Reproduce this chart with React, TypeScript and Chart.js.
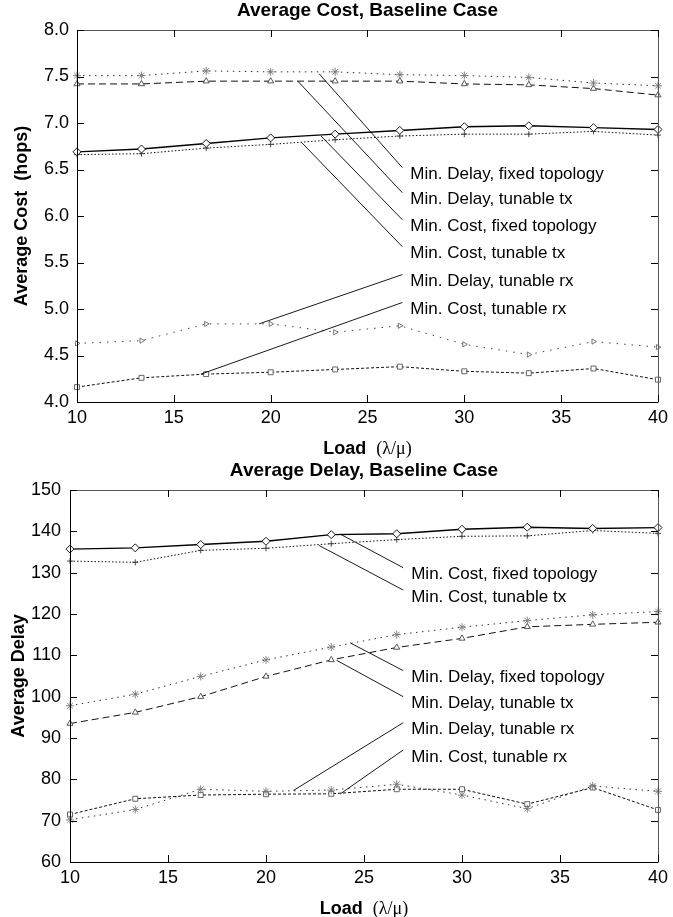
import React, { useEffect, useRef } from 'react';
import { Chart, registerables } from 'chart.js';

Chart.register(...registerables);

// ---------- data ----------
const loads = [10, 13.33, 16.67, 20, 23.33, 26.67, 30, 33.33, 36.67, 40];

// Average cost (hops)
const costMinDelayFixed = [7.51, 7.51, 7.56, 7.55, 7.55, 7.52, 7.51, 7.49, 7.43, 7.4];
const costMinDelayTx = [7.42, 7.42, 7.45, 7.45, 7.45, 7.45, 7.42, 7.41, 7.37, 7.3];
const costMinCostFixed = [6.69, 6.72, 6.78, 6.84, 6.88, 6.92, 6.96, 6.97, 6.95, 6.93];
const costMinCostTx = [6.66, 6.67, 6.73, 6.77, 6.82, 6.86, 6.88, 6.88, 6.91, 6.87];
const costMinDelayRx = [4.63, 4.66, 4.84, 4.84, 4.75, 4.82, 4.62, 4.51, 4.65, 4.59];
const costMinCostRx = [4.16, 4.26, 4.3, 4.32, 4.35, 4.38, 4.33, 4.31, 4.36, 4.24];

// Average delay
const delayMinCostFixed = [135.7, 136.0, 136.8, 137.6, 139.2, 139.4, 140.5, 141.0, 140.7, 140.9];
const delayMinCostTx = [132.8, 132.5, 135.4, 135.9, 137.0, 138.0, 138.8, 138.9, 140.2, 139.5];
const delayMinDelayFixed = [97.8, 100.6, 104.9, 108.9, 112.0, 115.0, 116.8, 118.4, 119.8, 120.6];
const delayMinDelayTx = [93.5, 96.2, 100.0, 104.9, 108.9, 111.9, 114.1, 116.9, 117.5, 118.0];
const delayMinDelayRx = [70.2, 72.7, 77.6, 77.1, 77.4, 78.8, 76.2, 72.9, 78.4, 77.1];
const delayMinCostRx = [71.5, 75.3, 76.2, 76.4, 76.5, 77.6, 77.6, 74.0, 78.0, 72.6];

// annotation callouts (data coordinates)
const costNoteText = [
  'Min. Delay, fixed topology',
  'Min. Delay, tunable tx',
  'Min. Cost, fixed topology',
  'Min. Cost, tunable tx',
  'Min. Delay, tunable rx',
  'Min. Cost, tunable rx',
];
const costNoteFromX = [22.5, 21.4, 22.6, 21.6, 19.4, 16.4];
const costNoteFromY = [7.53, 7.45, 6.86, 6.79, 4.84, 4.3];
const costNoteToX = 26.8;
const costNoteToY = [6.52, 6.25, 5.96, 5.67, 5.37, 5.07];

const delayNoteText = [
  'Min. Cost, fixed topology',
  'Min. Cost, tunable tx',
  'Min. Delay, fixed topology',
  'Min. Delay, tunable tx',
  'Min. Delay, tunable rx',
  'Min. Cost, tunable rx',
];
const delayNoteFromX = [23.8, 22.7, 24.3, 23.6, 21.4, 23.8];
const delayNoteFromY = [139.3, 136.6, 113.0, 108.8, 77.3, 76.5];
const delayNoteToX = 27.0;
const delayNoteToY = [131.2, 125.8, 106.3, 100.0, 93.7, 87.1];

const costTicks = [4, 4.5, 5, 5.5, 6, 6.5, 7, 7.5, 8];
const delayTicks = [60, 70, 80, 90, 100, 110, 120, 130, 140, 150];
const loadTicks = [10, 15, 20, 25, 30, 35, 40];

// ---------- styling ----------
const SANS = '"Liberation Sans", Arial, Helvetica, sans-serif';
const SERIF = '"Liberation Serif", "Times New Roman", serif';

const styles: Record<string, any> = {
  solidDiamond: { borderColor: '#000', borderWidth: 1.4, borderDash: [], pointStyle: 'rectRot', pointRadius: 4, pointBorderColor: '#000', pointBackgroundColor: '#fff' },
  dotCross: { borderColor: '#111', borderWidth: 1, borderDash: [1.5, 2], pointStyle: 'cross', pointRadius: 3, pointBorderColor: '#333', pointBackgroundColor: '#fff' },
  dotStar: { borderColor: '#333', borderWidth: 1, borderDash: [1.5, 4.5], pointStyle: 'star', pointRadius: 4, pointBorderColor: '#777', pointBackgroundColor: '#fff' },
  dashTri: { borderColor: '#111', borderWidth: 1, borderDash: [7, 4], pointStyle: 'triangle', pointRadius: 3.5, pointBorderColor: '#444', pointBackgroundColor: '#fff' },
  dotTriR: { borderColor: '#444', borderWidth: 1, borderDash: [1.5, 6], pointStyle: 'triangle', pointRotation: 90, pointRadius: 3, pointBorderColor: '#666', pointBackgroundColor: '#fff' },
  dashRect: { borderColor: '#111', borderWidth: 1, borderDash: [3, 2], pointStyle: 'rect', pointRadius: 3.5, pointBorderColor: '#555', pointBackgroundColor: '#fff' },
};

function ds(label: string, values: number[], style: any) {
  return {
    label,
    data: loads.map((x, i) => ({ x, y: values[i] })),
    fill: false,
    tension: 0,
    clip: false,
    pointBorderWidth: 0.9,
    ...style,
  };
}

const framePlugin = {
  id: 'frame',
  afterDraw(chart: any, _args: any, opts: any) {
    const { ctx, chartArea: a, scales } = chart;
    const xs = scales.x;
    const ys = scales.y;
    ctx.save();
    // frame
    ctx.lineWidth = 1;
    ctx.strokeStyle = '#555';
    ctx.beginPath();
    ctx.moveTo(a.left, a.top + 0.5);
    ctx.lineTo(a.right + 0.5, a.top + 0.5);
    ctx.lineTo(a.right + 0.5, a.bottom);
    ctx.stroke();
    ctx.strokeStyle = '#000';
    ctx.beginPath();
    ctx.moveTo(a.left + 0.5, a.top);
    ctx.lineTo(a.left + 0.5, a.bottom + 0.5);
    ctx.lineTo(a.right + 0.5, a.bottom + 0.5);
    ctx.stroke();
    // inward ticks
    const tl = 7;
    ctx.strokeStyle = '#000';
    ctx.beginPath();
    opts.xTicks.forEach((v: number) => {
      const px = Math.round(xs.getPixelForValue(v)) + 0.5;
      ctx.moveTo(px, a.bottom);
      ctx.lineTo(px, a.bottom - tl);
      ctx.moveTo(px, a.top);
      ctx.lineTo(px, a.top + tl);
    });
    opts.yTicks.forEach((v: number) => {
      const py = Math.round(ys.getPixelForValue(v)) + 0.5;
      ctx.moveTo(a.left, py);
      ctx.lineTo(a.left + tl, py);
      ctx.moveTo(a.right, py);
      ctx.lineTo(a.right - tl, py);
    });
    ctx.stroke();

    // callouts
    ctx.lineWidth = 0.9;
    ctx.strokeStyle = '#000';
    ctx.fillStyle = '#000';
    ctx.font = `17px ${SANS}`;
    ctx.textAlign = 'left';
    ctx.textBaseline = 'middle';
    opts.noteText.forEach((t: string, i: number) => {
      const x0 = xs.getPixelForValue(opts.fromX[i]);
      const y0 = ys.getPixelForValue(opts.fromY[i]);
      const x1 = xs.getPixelForValue(opts.toX);
      const y1 = ys.getPixelForValue(opts.toY[i]);
      ctx.beginPath();
      ctx.moveTo(x0, y0);
      ctx.lineTo(x1, y1);
      ctx.stroke();
      ctx.fillText(t, x1 + 8, y1 + 7);
    });

    // chart title
    const cx = (a.left + a.right) / 2;
    ctx.textAlign = 'center';
    ctx.font = `bold 19px ${SANS}`;
    ctx.fillText(opts.title, cx, a.top - 19);

    // x title: "Load  (λ/μ)"
    const boldPart = 'Load';
    const gap = '  ';
    const serifPart = '(\u03BB/\u03BC)';
    ctx.font = `bold 18px ${SANS}`;
    const w1 = ctx.measureText(boldPart + gap).width;
    ctx.font = `18px ${SERIF}`;
    const w2 = ctx.measureText(serifPart).width;
    const sx = cx - (w1 + w2) / 2;
    const ty = a.bottom + 47;
    ctx.textAlign = 'left';
    ctx.font = `bold 18px ${SANS}`;
    ctx.fillText(boldPart, sx, ty);
    ctx.font = `18px ${SERIF}`;
    ctx.fillText(serifPart, sx + w1, ty);

    // y title
    ctx.save();
    ctx.translate(opts.yTitleX, (a.top + a.bottom) / 2);
    ctx.rotate(-Math.PI / 2);
    ctx.textAlign = 'center';
    ctx.font = `bold 18px ${SANS}`;
    ctx.fillText(opts.yTitle, 0, 0);
    ctx.restore();

    ctx.restore();
  },
};

function makeConfig(p: any) {
  return {
    type: 'line',
    data: { datasets: p.datasets },
    plugins: [framePlugin],
    options: {
      animation: false,
      responsive: false,
      maintainAspectRatio: false,
      events: [],
      layout: { padding: { top: p.padTop, right: p.padRight, left: 0, bottom: 0 } },
      plugins: {
        legend: { display: false },
        tooltip: { enabled: false },
        title: { display: false },
        frame: {
          title: p.title,
          yTitle: p.yTitle,
          yTitleX: p.yTitleX,
          xTicks: loadTicks,
          yTicks: p.yTicks,
          noteText: p.noteText,
          fromX: p.fromX,
          fromY: p.fromY,
          toX: p.toX,
          toY: p.toY,
        },
      },
      scales: {
        x: {
          type: 'linear',
          min: 10,
          max: 40,
          grid: { display: false, drawTicks: false },
          border: { display: false },
          ticks: {
            stepSize: 5,
            color: '#000',
            padding: 5,
            maxRotation: 0,
            font: { family: SANS, size: 18 },
          },
          afterFit(s: any) {
            s.height = p.xAxisH;
          },
        },
        y: {
          type: 'linear',
          min: p.yMin,
          max: p.yMax,
          grid: { display: false, drawTicks: false },
          border: { display: false },
          ticks: {
            stepSize: p.yStep,
            color: '#000',
            padding: p.yPad,
            font: { family: SANS, size: 18 },
            callback: (v: number) => p.yFmt(v),
          },
          afterFit(s: any) {
            s.width = p.yAxisW;
          },
        },
      },
    },
  };
}

function ChartCanvas({ config, width, height, top }: any) {
  const ref = useRef<HTMLCanvasElement | null>(null);
  useEffect(() => {
    if (!ref.current) return;
    const chart = new Chart(ref.current, config as any);
    return () => chart.destroy();
  }, []);
  return (
    <canvas
      ref={ref}
      width={width}
      height={height}
      style={{ position: 'absolute', left: 0, top, width, height, display: 'block' }}
    />
  );
}

export default function App() {
  const costConfig = makeConfig({
    datasets: [
      ds('Min. Delay, fixed topology', costMinDelayFixed, styles.dotStar),
      ds('Min. Delay, tunable tx', costMinDelayTx, styles.dashTri),
      ds('Min. Cost, fixed topology', costMinCostFixed, styles.solidDiamond),
      ds('Min. Cost, tunable tx', costMinCostTx, styles.dotCross),
      ds('Min. Delay, tunable rx', costMinDelayRx, styles.dotTriR),
      ds('Min. Cost, tunable rx', costMinCostRx, styles.dashRect),
    ],
    title: 'Average Cost, Baseline Case',
    yTitle: 'Average Cost  (hops)',
    yTitleX: 22,
    yTicks: costTicks,
    yMin: 4,
    yMax: 8,
    yStep: 0.5,
    yFmt: (v: number) => v.toFixed(1),
    yPad: 8,
    yAxisW: 77,
    xAxisH: 56,
    padTop: 30,
    padRight: 9,
    noteText: costNoteText,
    fromX: costNoteFromX,
    fromY: costNoteFromY,
    toX: costNoteToX,
    toY: costNoteToY,
  });
  const delayConfig = makeConfig({
    datasets: [
      ds('Min. Cost, fixed topology', delayMinCostFixed, styles.solidDiamond),
      ds('Min. Cost, tunable tx', delayMinCostTx, styles.dotCross),
      ds('Min. Delay, fixed topology', delayMinDelayFixed, styles.dotStar),
      ds('Min. Delay, tunable tx', delayMinDelayTx, styles.dashTri),
      ds('Min. Delay, tunable rx', delayMinDelayRx, styles.dotStar),
      ds('Min. Cost, tunable rx', delayMinCostRx, styles.dashRect),
    ],
    title: 'Average Delay, Baseline Case',
    yTitle: 'Average Delay',
    yTitleX: 19,
    yTicks: delayTicks,
    yMin: 60,
    yMax: 150,
    yStep: 10,
    yFmt: (v: number) => String(v),
    yPad: 9,
    yAxisW: 70,
    xAxisH: 55,
    padTop: 32,
    padRight: 14,
    noteText: delayNoteText,
    fromX: delayNoteFromX,
    fromY: delayNoteFromY,
    toX: delayNoteToX,
    toY: delayNoteToY,
  });
  return (
    <div style={{ position: 'absolute', left: 0, top: 0, width: 673, height: 917, background: '#fff' }}>
      <ChartCanvas config={costConfig} width={673} height={458} top={0} />
      <ChartCanvas config={delayConfig} width={673} height={459} top={458} />
    </div>
  );
}
